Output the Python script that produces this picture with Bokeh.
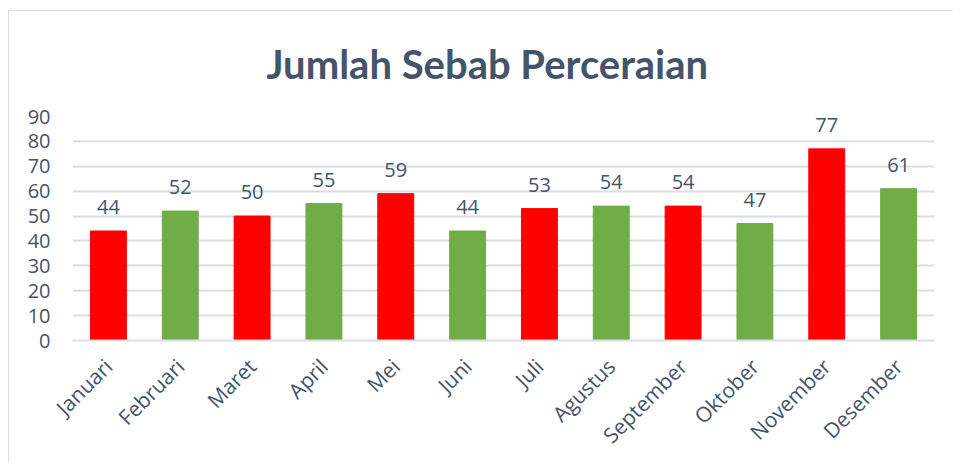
from bokeh.plotting import figure
from bokeh.models import ColumnDataSource, LabelSet
from bokeh.core.properties import value
from bokeh.embed import file_html
from bokeh.resources import INLINE
from math import pi

title_text = "Jumlah Sebab Perceraian"
months = ["Januari", "Februari", "Maret", "April", "Mei", "Juni", "Juli",
          "Agustus", "September", "Oktober", "November", "Desember"]
values = [44, 52, 50, 55, 59, 44, 53, 54, 54, 47, 77, 61]
colors = ["#FF0000", "#70AD47"] * 6
y_ticks = [0, 10, 20, 30, 40, 50, 60, 70, 80, 90]

TEXT = "#44546A"
GRID = "#D9DDE3"
FONT = "Open Sans"

src = ColumnDataSource(dict(month=months, value=values, color=colors,
                            label=[str(v) for v in values]))

FRAME_H = 224
p = figure(x_range=months, y_range=(0, 90), width=945, height=452,
           output_backend="svg", toolbar_location=None,
           min_border_left=63, min_border_right=20, min_border_top=105,
           min_border_bottom=452 - 105 - FRAME_H)
p.styles = {"margin-left": "8px", "margin-top": "10px",
            "border-left": "1px solid #D9DDE3", "border-top": "1px solid #D9DDE3"}

p.title.text = title_text
p.title.align = "left"
p.title.offset = 194
p.title.vertical_align = "top"
p.title.standoff = 54
p.title.text_font = "Lato"
p.title.text_font_size = "40px"
p.title.text_font_style = "bold"
p.title.text_color = TEXT

p.vbar(x="month", top="value", width=0.5, color="color", source=src)

labels = LabelSet(x="month", y="value", text="label", source=src,
                  text_align="center", text_baseline="bottom", y_offset=17,
                  text_font=value(FONT), text_font_size="20px", text_color=TEXT)
p.add_layout(labels)

p.outline_line_color = None
p.background_fill_color = "white"
p.x_range.range_padding = 0

p.yaxis.ticker = y_ticks
p.yaxis.axis_line_color = None
p.yaxis.major_tick_line_color = None
p.yaxis.minor_tick_line_color = None
p.yaxis.major_label_text_font = FONT
p.yaxis.major_label_text_font_size = "20px"
p.yaxis.major_label_text_color = TEXT
p.yaxis.major_label_standoff = 16

p.xaxis.axis_line_color = GRID
p.xaxis.axis_line_width = 2
p.xaxis.major_tick_line_color = None
p.xaxis.minor_tick_line_color = None
p.xaxis.major_label_orientation = pi / 4
p.xaxis.major_label_text_font = FONT
p.xaxis.major_label_text_font_size = "21px"
p.xaxis.major_label_text_color = TEXT
p.xaxis.major_label_standoff = 16

p.xgrid.grid_line_color = None
p.ygrid.grid_line_color = GRID
p.ygrid.grid_line_width = 2

open("out.html", "w").write(file_html(p, INLINE))
